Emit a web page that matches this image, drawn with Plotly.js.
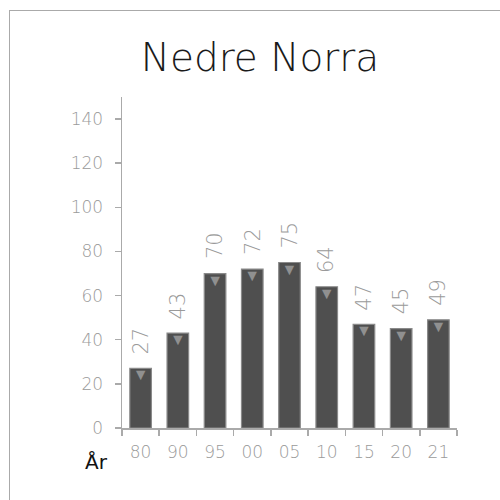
<!DOCTYPE html>
<html><head><meta charset="utf-8">
<script src="https://cdn.plot.ly/plotly-3.0.1.min.js"></script>
<style>
html,body{margin:0;padding:0;background:#fff;overflow:hidden}
#frame{position:absolute;left:9px;top:10px;width:520px;height:520px;border:1.5px solid #aaa;box-sizing:border-box}
#chart{position:absolute;left:0;top:0;width:500px;height:500px}
</style></head>
<body><div id="frame"></div><div id="chart"></div>
<script>
const categories = ["80","90","95","00","05","10","15","20","21"];
const values = [27,43,70,72,75,64,47,45,49];
const yTicks = [0,20,40,60,80,100,120,140];
const fontFam = "'DejaVu Sans', sans-serif";

const bars = {
  type:'bar', x:categories, y:values,
  marker:{color:'#4f4f4f', line:{color:'#8a8a8a', width:1.2}},
  width:0.58, hoverinfo:'skip'
};
const caps = {
  type:'scatter', mode:'text', x:categories, y:values,
  text:values.map(()=>'▼'), textposition:'bottom center',
  textfont:{size:16, color:'#909090'}, hoverinfo:'skip', cliponaxis:false
};
const labelAnns = categories.map((c,i)=>({
  x:i, y:values[i], xref:'x', yref:'y', text:String(values[i]),
  textangle:-90, showarrow:false, xanchor:'center', yanchor:'bottom', yshift:12,
  font:{family:fontFam, size:21, color:'#9a9a9a', weight:200}
}));
const layout = {
  width:500, height:500,
  margin:{l:122, r:43, t:97, b:72},
  paper_bgcolor:'rgba(0,0,0,0)', plot_bgcolor:'rgba(0,0,0,0)',
  showlegend:false,
  title:{text:'Nedre Norra', font:{family:fontFam, size:39, color:'#1a1a1a', weight:200},
    x:0.52, xref:'container', xanchor:'center', y:0.886, yref:'container', yanchor:'middle'},
  xaxis:{type:'category', showline:true, linecolor:'#aaaaaa', linewidth:1.5,
    ticks:'outside', tickson:'boundaries', ticklen:6, tickcolor:'#aaaaaa', tickwidth:1.5,
    ticklabelstandoff:8,
    tickfont:{family:fontFam, size:17, color:'#9a9a9a', weight:200}, showgrid:false, zeroline:false},
  yaxis:{range:[0,150], showline:true, linecolor:'#aaaaaa', linewidth:1.5,
    tickvals:yTicks, ticks:'outside', ticklen:6, tickcolor:'#aaaaaa', tickwidth:1.5,
    ticklabelstandoff:8,
    tickfont:{family:fontFam, size:17, color:'#9a9a9a', weight:200}, showgrid:false, zeroline:false},
  annotations:[{text:'År', xref:'paper', yref:'paper', x:-0.075, y:-0.103,
    xanchor:'center', yanchor:'middle', showarrow:false,
    font:{family:fontFam, size:20, color:'#111'}}].concat(labelAnns)
};
Plotly.newPlot('chart',[bars,caps],layout,{staticPlot:true});
</script></body></html>
